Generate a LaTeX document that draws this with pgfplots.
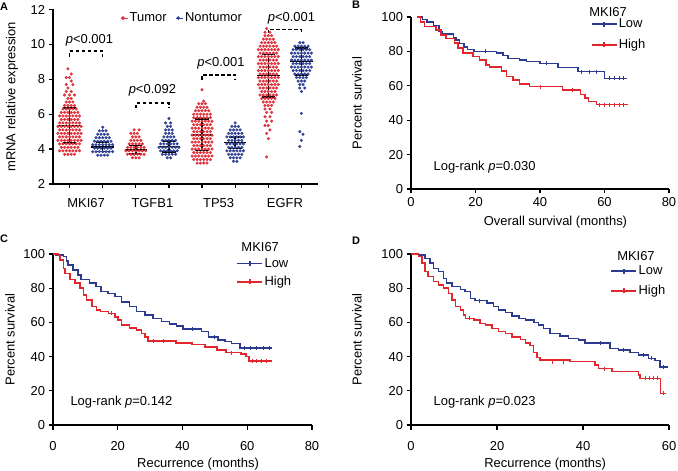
\documentclass[border=0pt]{standalone}
\usepackage{fontspec}
\setmainfont{Liberation Sans}
\usepackage{pgfplots}
\pgfplotsset{compat=1.18}

\definecolor{kmred}{RGB}{226,38,45}
\definecolor{kmblue}{RGB}{44,58,143}
\definecolor{dotred}{RGB}{224,52,62}
\definecolor{dotblue}{RGB}{52,68,150}

\newcommand{\lbl}{\fontsize{13}{15}\selectfont}

\pgfplotsset{
  panel/.style={
    scale only axis,
    axis lines*=left,
    axis line style={black, line width=1.3bp},
    every tick/.style={black, line width=1.2bp},
    tick align=outside,
    major tick length=4.5bp,
    tick label style={font=\lbl},
    label style={font=\lbl},
    /pgf/number format/assume math mode=true,
  },
  km/.style={
    panel,
    clip mode=individual,
    width=258bp, height=172bp,
    ymin=0, ymax=100, ytick={0,20,...,100},
    xmin=0,
    ylabel={Percent survival},
    legend cell align=left,
    legend style={draw=none, fill=none, font=\lbl, inner sep=0pt,
      nodes={inner sep=1.5bp}, anchor=north west},
    legend image code/.code={
      \draw[#1] plot coordinates {(0bp,0bp) (25bp,0bp)};
      \draw[#1] plot coordinates {(12.5bp,-2.5bp) (12.5bp,2.5bp)};},
  },
  low/.style={kmblue, line width=1.5bp, const plot},
  high/.style={kmred, line width=1.5bp, const plot},
  cens/.style={only marks, mark=|, mark size=2bp, line width=1bp, forget plot},
}

\begin{document}
\begin{tikzpicture}
\path[use as bounding box] (0bp,0bp) rectangle (678bp,471bp);

% ---------------- A: expression scatter
\begin{axis}[panel, at={(53bp,287bp)}, anchor=south west,
  width=265bp, height=174.5bp, clip=false,
  xmin=0.5, xmax=8.5, ymin=2, ymax=12, ytick={2,4,...,12},
  xtick={1,...,8}, xticklabels={,,,,,,,},
  extra x ticks={1.5,3.5,5.5,7.5},
  extra x tick labels={MKI67,TGFB1,TP53,EGFR},
  extra x tick style={major tick length=0bp, tick style={draw=none},
    xticklabel style={yshift=-11bp}},
  ylabel={mRNA relative expression},
  ylabel style={at={(axis description cs:-0.155,0.5)}, anchor=center},
  unbounded coords=jump,
  legend columns=2,
  legend style={draw=none, fill=none, font=\lbl, inner sep=0pt,
    nodes={inner sep=1.5bp}, at={(0.255,0.951)}, anchor=west,
    /tikz/every even column/.append style={column sep=8bp}},
  legend image code/.code={\draw[#1, mark size=1.7bp] plot coordinates {(0bp,0bp)}; \path (-2bp,0bp) -- (5bp,0bp);},
]
\addplot[only marks, mark=*, mark size=1.35bp, color=dotred,
  mark options={draw=none, fill=dotred}] coordinates {
(0.85,3.7) (0.95,3.7) (1.05,3.7) (1.15,3.7)
(0.7,3.9) (0.8,3.9) (0.9,3.9) (1,3.9) (1.1,3.9) (1.2,3.9) (1.3,3.9)
(0.75,4.1) (0.85,4.1) (0.95,4.1) (1.05,4.1) (1.15,4.1) (1.25,4.1)
(0.7,4.3) (0.8,4.3) (0.9,4.3) (1,4.3) (1.1,4.3) (1.2,4.3) (1.3,4.3)
(0.65,4.5) (0.75,4.5) (0.85,4.5) (0.95,4.5) (1.05,4.5) (1.15,4.5) (1.25,4.5) (1.35,4.5)
(0.7,4.7) (0.8,4.7) (0.9,4.7) (1,4.7) (1.1,4.7) (1.2,4.7) (1.3,4.7)
(0.65,4.9) (0.75,4.9) (0.85,4.9) (0.95,4.9) (1.05,4.9) (1.15,4.9) (1.25,4.9) (1.35,4.9)
(0.7,5.1) (0.8,5.1) (0.9,5.1) (1,5.1) (1.1,5.1) (1.2,5.1) (1.3,5.1)
(0.65,5.3) (0.75,5.3) (0.85,5.3) (0.95,5.3) (1.05,5.3) (1.15,5.3) (1.25,5.3) (1.35,5.3)
(0.7,5.5) (0.8,5.5) (0.9,5.5) (1,5.5) (1.1,5.5) (1.2,5.5) (1.3,5.5)
(0.75,5.7) (0.85,5.7) (0.95,5.7) (1.05,5.7) (1.15,5.7) (1.25,5.7)
(0.7,5.9) (0.8,5.9) (0.9,5.9) (1,5.9) (1.1,5.9) (1.2,5.9) (1.3,5.9)
(0.75,6.1) (0.85,6.1) (0.95,6.1) (1.05,6.1) (1.15,6.1) (1.25,6.1)
(0.8,6.3) (0.9,6.3) (1,6.3) (1.1,6.3) (1.2,6.3)
(0.85,6.5) (0.95,6.5) (1.05,6.5) (1.15,6.5)
(0.9,6.7) (1,6.7) (1.1,6.7)
(0.95,6.9) (1.05,6.9)
(0.85,7.1) (1,7.1) (1.15,7.1)
(0.9,7.3) (1.05,7.3)
(0.95,7.5)
(0.9,7.7) (1.1,7.7)
(1.05,7.9)
(0.9,8.1) (1,8.1)
(1.05,8.3)
(0.95,8.6)
(2.9,3.5) (3,3.5) (3.1,3.5)
(2.75,3.7) (2.85,3.7) (2.95,3.7) (3.05,3.7) (3.15,3.7) (3.25,3.7)
(2.7,3.9) (2.8,3.9) (2.9,3.9) (3,3.9) (3.1,3.9) (3.2,3.9) (3.3,3.9)
(2.75,4.1) (2.85,4.1) (2.95,4.1) (3.05,4.1) (3.15,4.1) (3.25,4.1)
(2.8,4.3) (2.9,4.3) (3,4.3) (3.1,4.3) (3.2,4.3)
(2.85,4.5) (2.95,4.5) (3.05,4.5) (3.15,4.5)
(2.9,4.7) (3,4.7) (3.1,4.7)
(2.85,4.9) (2.95,4.9) (3.05,4.9)
(2.95,5.1) (3.1,5.1)
(4.85,3.2) (4.95,3.2) (5.05,3.2) (5.15,3.2)
(4.75,3.4) (4.85,3.4) (4.95,3.4) (5.05,3.4) (5.15,3.4) (5.25,3.4)
(4.7,3.6) (4.8,3.6) (4.9,3.6) (5,3.6) (5.1,3.6) (5.2,3.6) (5.3,3.6)
(4.75,3.8) (4.85,3.8) (4.95,3.8) (5.05,3.8) (5.15,3.8) (5.25,3.8)
(4.7,4.0) (4.8,4.0) (4.9,4.0) (5,4.0) (5.1,4.0) (5.2,4.0) (5.3,4.0)
(4.75,4.2) (4.85,4.2) (4.95,4.2) (5.05,4.2) (5.15,4.2) (5.25,4.2)
(4.7,4.4) (4.8,4.4) (4.9,4.4) (5,4.4) (5.1,4.4) (5.2,4.4) (5.3,4.4)
(4.75,4.6) (4.85,4.6) (4.95,4.6) (5.05,4.6) (5.15,4.6) (5.25,4.6)
(4.7,4.8) (4.8,4.8) (4.9,4.8) (5,4.8) (5.1,4.8) (5.2,4.8) (5.3,4.8)
(4.75,5.0) (4.85,5.0) (4.95,5.0) (5.05,5.0) (5.15,5.0) (5.25,5.0)
(4.7,5.2) (4.8,5.2) (4.9,5.2) (5,5.2) (5.1,5.2) (5.2,5.2) (5.3,5.2)
(4.75,5.4) (4.85,5.4) (4.95,5.4) (5.05,5.4) (5.15,5.4) (5.25,5.4)
(4.7,5.6) (4.8,5.6) (4.9,5.6) (5,5.6) (5.1,5.6) (5.2,5.6) (5.3,5.6)
(4.75,5.8) (4.85,5.8) (4.95,5.8) (5.05,5.8) (5.15,5.8) (5.25,5.8)
(4.75,6.0) (4.85,6.0) (4.95,6.0) (5.05,6.0) (5.15,6.0) (5.25,6.0)
(4.8,6.2) (4.9,6.2) (5,6.2) (5.1,6.2) (5.2,6.2)
(4.85,6.4) (4.95,6.4) (5.05,6.4) (5.15,6.4)
(4.9,6.6) (5,6.6) (5.1,6.6)
(5.05,6.75)
(5,7.4)
(6.95,10.9)
(6.9,10.7) (7.05,10.7)
(6.9,10.5) (7,10.5) (7.1,10.5)
(6.85,10.3) (6.95,10.3) (7.05,10.3) (7.15,10.3)
(6.8,10.1) (6.9,10.1) (7,10.1) (7.1,10.1) (7.2,10.1)
(6.75,9.9) (6.85,9.9) (6.95,9.9) (7.05,9.9) (7.15,9.9) (7.25,9.9)
(6.7,9.7) (6.8,9.7) (6.9,9.7) (7,9.7) (7.1,9.7) (7.2,9.7) (7.3,9.7)
(6.75,9.5) (6.85,9.5) (6.95,9.5) (7.05,9.5) (7.15,9.5) (7.25,9.5)
(6.7,9.3) (6.8,9.3) (6.9,9.3) (7,9.3) (7.1,9.3) (7.2,9.3) (7.3,9.3)
(6.75,9.1) (6.85,9.1) (6.95,9.1) (7.05,9.1) (7.15,9.1) (7.25,9.1)
(6.7,8.9) (6.8,8.9) (6.9,8.9) (7,8.9) (7.1,8.9) (7.2,8.9) (7.3,8.9)
(6.75,8.7) (6.85,8.7) (6.95,8.7) (7.05,8.7) (7.15,8.7) (7.25,8.7)
(6.7,8.5) (6.8,8.5) (6.9,8.5) (7,8.5) (7.1,8.5) (7.2,8.5) (7.3,8.5)
(6.75,8.3) (6.85,8.3) (6.95,8.3) (7.05,8.3) (7.15,8.3) (7.25,8.3)
(6.7,8.1) (6.8,8.1) (6.9,8.1) (7,8.1) (7.1,8.1) (7.2,8.1) (7.3,8.1)
(6.75,7.9) (6.85,7.9) (6.95,7.9) (7.05,7.9) (7.15,7.9) (7.25,7.9)
(6.7,7.7) (6.8,7.7) (6.9,7.7) (7,7.7) (7.1,7.7) (7.2,7.7) (7.3,7.7)
(6.75,7.5) (6.85,7.5) (6.95,7.5) (7.05,7.5) (7.15,7.5) (7.25,7.5)
(6.8,7.3) (6.9,7.3) (7,7.3) (7.1,7.3) (7.2,7.3)
(6.75,7.1) (6.85,7.1) (6.95,7.1) (7.05,7.1) (7.15,7.1) (7.25,7.1)
(6.8,6.9) (6.9,6.9) (7,6.9) (7.1,6.9) (7.2,6.9)
(6.85,6.7) (6.95,6.7) (7.05,6.7) (7.15,6.7)
(6.9,6.5) (7,6.5) (7.1,6.5)
(6.9,6.3) (7.05,6.3)
(6.95,6.1) (7.1,6.1)
(6.9,5.85) (7.05,5.85)
(6.95,5.6) (7.1,5.6)
(6.9,5.35) (7,5.35)
(7.05,5.1)
(6.95,4.9)
(7,4.6)
(6.95,3.55)
};
\addplot[only marks, mark=*, mark size=1.35bp, color=dotblue,
  mark options={draw=none, fill=dotblue}] coordinates {
(1.85,3.65) (1.95,3.65) (2.05,3.65) (2.15,3.65)
(1.7,3.85) (1.8,3.85) (1.9,3.85) (2,3.85) (2.1,3.85) (2.2,3.85) (2.3,3.85)
(1.75,4.05) (1.85,4.05) (1.95,4.05) (2.05,4.05) (2.15,4.05) (2.25,4.05)
(1.7,4.25) (1.8,4.25) (1.9,4.25) (2,4.25) (2.1,4.25) (2.2,4.25) (2.3,4.25)
(1.75,4.45) (1.85,4.45) (1.95,4.45) (2.05,4.45) (2.15,4.45) (2.25,4.45)
(1.8,4.65) (1.9,4.65) (2,4.65) (2.1,4.65) (2.2,4.65)
(1.85,4.85) (1.95,4.85) (2.05,4.85) (2.15,4.85)
(1.9,5.05) (2,5.05) (2.1,5.05)
(2,5.25)
(3.95,3.5) (4.05,3.5)
(3.8,3.7) (3.9,3.7) (4,3.7) (4.1,3.7) (4.2,3.7)
(3.75,3.9) (3.85,3.9) (3.95,3.9) (4.05,3.9) (4.15,3.9) (4.25,3.9)
(3.7,4.1) (3.8,4.1) (3.9,4.1) (4,4.1) (4.1,4.1) (4.2,4.1) (4.3,4.1)
(3.75,4.3) (3.85,4.3) (3.95,4.3) (4.05,4.3) (4.15,4.3) (4.25,4.3)
(3.8,4.5) (3.9,4.5) (4,4.5) (4.1,4.5) (4.2,4.5)
(3.85,4.7) (3.95,4.7) (4.05,4.7) (4.15,4.7)
(3.9,4.9) (4,4.9) (4.1,4.9)
(3.9,5.1) (4,5.1) (4.1,5.1)
(3.95,5.3) (4.05,5.3)
(3.9,5.5) (4.05,5.5)
(4,5.75)
(5.95,3.3) (6.05,3.3)
(5.85,3.5) (5.95,3.5) (6.05,3.5) (6.15,3.5)
(5.8,3.7) (5.9,3.7) (6,3.7) (6.1,3.7) (6.2,3.7)
(5.75,3.9) (5.85,3.9) (5.95,3.9) (6.05,3.9) (6.15,3.9) (6.25,3.9)
(5.8,4.1) (5.9,4.1) (6,4.1) (6.1,4.1) (6.2,4.1)
(5.75,4.3) (5.85,4.3) (5.95,4.3) (6.05,4.3) (6.15,4.3) (6.25,4.3)
(5.8,4.5) (5.9,4.5) (6,4.5) (6.1,4.5) (6.2,4.5)
(5.75,4.7) (5.85,4.7) (5.95,4.7) (6.05,4.7) (6.15,4.7) (6.25,4.7)
(5.8,4.9) (5.9,4.9) (6,4.9) (6.1,4.9) (6.2,4.9)
(5.85,5.1) (5.95,5.1) (6.05,5.1) (6.15,5.1)
(5.9,5.3) (6,5.3) (6.1,5.3)
(6,5.5)
(7.95,10.1) (8.05,10.1)
(7.8,9.9) (7.9,9.9) (8,9.9) (8.1,9.9) (8.2,9.9)
(7.75,9.7) (7.85,9.7) (7.95,9.7) (8.05,9.7) (8.15,9.7) (8.25,9.7)
(7.7,9.5) (7.8,9.5) (7.9,9.5) (8,9.5) (8.1,9.5) (8.2,9.5) (8.3,9.5)
(7.75,9.3) (7.85,9.3) (7.95,9.3) (8.05,9.3) (8.15,9.3) (8.25,9.3)
(7.7,9.1) (7.8,9.1) (7.9,9.1) (8,9.1) (8.1,9.1) (8.2,9.1) (8.3,9.1)
(7.75,8.9) (7.85,8.9) (7.95,8.9) (8.05,8.9) (8.15,8.9) (8.25,8.9)
(7.7,8.7) (7.8,8.7) (7.9,8.7) (8,8.7) (8.1,8.7) (8.2,8.7) (8.3,8.7)
(7.75,8.5) (7.85,8.5) (7.95,8.5) (8.05,8.5) (8.15,8.5) (8.25,8.5)
(7.8,8.3) (7.9,8.3) (8,8.3) (8.1,8.3) (8.2,8.3)
(7.85,8.1) (7.95,8.1) (8.05,8.1) (8.15,8.1)
(7.9,7.9) (8,7.9) (8.1,7.9)
(7.95,7.7) (8.05,7.7)
(7.95,7.5) (8.1,7.5)
(8,7.3)
(8,6.05)
(7.95,5.0)
(8.05,4.85)
(8,4.5)
(7.95,4.15)
};
\legend{Tumor,Nontumor}
% mean and SD
\addplot[black, line width=1.6bp, forget plot] coordinates {
(0.8,4.35) (1.2,4.35) (1,nan) (1,4.35) (1,6.35) (1,nan) (0.8,6.35) (1.2,6.35) (1,nan) (0.66,5.35) (1.34,5.35) (1,nan)
(1.8,3.86) (2.2,3.86) (2,nan) (2,3.86) (2,4.41) (2,nan) (1.8,4.41) (2.2,4.41) (2,nan) (1.66,4.13) (2.34,4.13) (2,nan)
(2.8,3.72) (3.2,3.72) (3,nan) (3,3.72) (3,4.2) (3,nan) (2.8,4.2) (3.2,4.2) (3,nan) (2.66,3.96) (3.34,3.96) (3,nan)
(3.8,3.85) (4.2,3.85) (4,nan) (4,3.85) (4,4.45) (4,nan) (3.8,4.45) (4.2,4.45) (4,nan) (3.66,4.15) (4.34,4.15) (4,nan)
(4.8,3.92) (5.2,3.92) (5,nan) (5,3.92) (5,5.71) (5,nan) (4.8,5.71) (5.2,5.71) (5,nan) (4.66,4.82) (5.34,4.82) (5,nan)
(5.8,4.04) (6.2,4.04) (6,nan) (6,4.04) (6,4.71) (6,nan) (5.8,4.71) (6.2,4.71) (6,nan) (5.66,4.38) (6.34,4.38) (6,nan)
(6.8,6.98) (7.2,6.98) (7,nan) (7,6.98) (7,9.43) (7,nan) (6.8,9.43) (7.2,9.43) (7,nan) (6.66,8.22) (7.34,8.22) (7,nan)
(7.8,8.26) (8.2,8.26) (8,nan) (8,8.26) (8,9.78) (8,nan) (7.8,9.78) (8.2,9.78) (8,nan) (7.66,9.02) (8.34,9.02)
};
% significance brackets
\addplot[black, line width=1.5bp, dash pattern=on 3.5bp off 2.5bp, forget plot] coordinates {
(1,9.3) (1,9.62) (2,9.62) (2,9.3) (1,nan)
(3,6.34) (3,6.63) (4,6.63) (4,6.34) (3,nan)
(5,7.96) (5,8.25) (6,8.25) (6,7.96) (5,nan)
(7,10.63) (7,10.86) (8,10.86) (8,10.63)
};
\node[font=\lbl] at (axis cs:1.6,10.25) {\textit{p}<0.001};
\node[font=\lbl] at (axis cs:3.5,7.35) {\textit{p}<0.092};
\node[font=\lbl] at (axis cs:5.57,8.91) {\textit{p}<0.001};
\node[font=\lbl] at (axis cs:7.7,11.5) {\textit{p}<0.001};
\end{axis}

% ---------------- B: overall survival
\begin{axis}[km, at={(411bp,282bp)}, anchor=south west,
  xmax=80, xtick={0,20,...,80},
  xlabel={Overall survival (months)},
  xlabel style={at={(axis description cs:0.56,-0.192)}, anchor=center},
  ylabel style={at={(axis description cs:-0.209,0.5)}, anchor=center},
  legend style={at={(0.696,0.998)}, row sep=7bp}]
\addplot[low] coordinates {
(2,100) (3.5,98.5) (5,97) (6.9,95) (8.7,91.5) (9.7,90) (13.2,88) (13.9,86.5)
(15,84.5) (16.5,82.5) (17.5,81) (19.6,80) (26.5,79) (28.5,77.5) (30,76)
(33.7,75) (35.8,74) (40,73) (45.6,70.5) (51.8,68.3) (60,64.3) (67,64.3)
};
\addplot[high] coordinates {
(2,100) (3,97) (4.2,94.5) (7.8,92.5) (9.3,89.5) (10.9,87.5) (13.5,85) (14.6,82)
(16.1,79) (19.2,77) (21.3,75) (23.3,72) (24.4,71) (28,68.5) (29.6,65.5)
(31.6,63.5) (33.7,61) (36.8,59.5) (47,57.5) (52.5,55) (54,53) (55,51)
(57.5,49) (67.3,49)
};
\legend{Low,High}
\addplot[cens, kmblue] coordinates {
(23,80) (42,73) (53,68.3) (55.5,68.3) (57.5,68.3) (61.5,64.3) (63,64.3) (64.5,64.3) (66,64.3)
};
\addplot[cens, kmred] coordinates {
(40,59.5) (50,57.5) (58.5,49) (60,49) (61.5,49) (63,49) (64.5,49) (66,49)
};
\node[font=\lbl] at (rel axis cs:0.764,1.029) {MKI67};
\node[font=\lbl, anchor=west] at (rel axis cs:0.074,0.128) {Log-rank \textit{p}=0.030};
\end{axis}

% ---------------- C: recurrence
\begin{axis}[km, at={(53bp,46bp)}, anchor=south west, width=259bp, height=171bp,
  xmax=80, xtick={0,20,...,80},
  xticklabel style={yshift=-8bp},
  xlabel={Recurrence (months)},
  xlabel style={at={(axis description cs:0.56,-0.228)}, anchor=center},
  ylabel style={at={(axis description cs:-0.166,0.5)}, anchor=center},
  legend style={at={(0.708,0.986)}, row sep=5bp}]
\addplot[low] coordinates {
(0,100) (1,99.5) (3.2,98.5) (4.2,96) (4.7,93.5) (6.2,90.5) (7.7,87.7) (8.7,85)
(11.3,83) (13.3,81) (14.9,78) (17,77) (19.1,75) (21.1,72) (23.7,69.2)
(25.8,66.3) (28.4,64.3) (30.9,62.4) (33.5,60.4) (36,59) (38.1,58) (40.1,56)
(45.9,54.6) (48,51.6) (51,49.7) (53.1,48.7) (55.2,47.8) (57.7,45) (67.5,45)
};
\addplot[high] coordinates {
(0,100) (1.5,99) (2.2,96.5) (3.2,91.6) (3.7,88.7) (5.3,85) (6.8,83) (8.3,80)
(9.4,76) (10.4,73) (12,69.2) (13.5,67.3) (14.6,66.3) (17.1,65.3) (19.1,63.3)
(20.1,61.4) (21.2,58.5) (23.7,56.6) (25.8,55.6) (27.3,53.6) (28.4,51.6)
(29.4,49) (38,48) (43,47) (47,45.5) (50.6,44) (53.5,42.3) (58,41.5)
(59.6,40) (60.6,37.5) (67.5,37.5)
};
\legend{Low,High}
\addplot[cens, kmblue] coordinates {
(43,56) (50,51.6) (59,45) (61,45) (63,45) (65,45) (67,45)
};
\addplot[cens, kmred] coordinates {
(18,65.3) (31,49) (34,49) (55,42.3) (61.5,37.5) (63,37.5) (64.5,37.5) (66,37.5)
};
\node[font=\lbl] at (rel axis cs:0.80,1.04) {MKI67};
\node[font=\lbl, anchor=west] at (rel axis cs:0.054,0.134) {Log-rank \textit{p}=0.142};
\end{axis}

% ---------------- D: recurrence, second cohort
\begin{axis}[km, at={(411bp,46bp)}, anchor=south west, width=258bp, height=171bp,
  xmax=60, xtick={0,20,40,60},
  xticklabel style={yshift=-8bp},
  xlabel={Recurrence (months)},
  xlabel style={at={(axis description cs:0.52,-0.228)}, anchor=center},
  ylabel style={at={(axis description cs:-0.209,0.5)}, anchor=center},
  legend style={at={(0.773,0.94)}, row sep=6bp}]
\addplot[low] coordinates {
(0,100) (1.7,99.4) (3.2,97.5) (4.4,94.6) (5.2,91.6) (6.4,89.7) (7.5,85.8)
(8.3,82.9) (9.5,81) (11.5,79.3) (12.6,78) (13.8,74.1) (14.9,72.7) (17.7,71.2)
(19.2,69.2) (20.4,67.3) (22,65.7) (23.5,63.7) (25.1,62.4) (26.6,61.4)
(28.6,59.8) (29.6,58.5) (30.8,56.5) (32.3,53.6) (34.6,52) (36.6,50.7)
(38.9,49.7) (40.5,48) (46.3,44.8) (48.2,43.9) (50.9,42.3) (52.9,40.9)
(55.2,39) (56.7,37.6) (57.9,34) (59.8,34)
};
\addplot[high] coordinates {
(0,100) (1.7,98.5) (2.5,94.6) (3.2,89.7) (4,86.7) (5.2,83.8) (6.4,82) (7.5,80)
(8.7,77) (9.5,73) (10.3,69.2) (11.5,67.3) (12.2,64.3) (12.7,62.4) (14.6,61.4)
(16.1,59.5) (17.3,58.5) (18.8,56.5) (20.4,54.6) (22,53.5) (23.5,51.6)
(25.5,50) (26.6,48) (27.7,46.5) (28.5,42.5) (29.3,39.5) (30,38) (37,37)
(42.8,35) (43.6,33) (46.7,31.2) (52.9,29.2) (53.3,27.3) (58,18.5) (59.4,18.5)
};
\legend{Low,High}
\addplot[cens, kmblue] coordinates {
(16,72.7) (44,48) (49.5,43.9) (54,40.9) (56,39) (58.8,34)
};
\addplot[cens, kmred] coordinates {
(13.5,62.4) (33,37) (35.5,37) (45,33) (54.5,27.3) (55.5,27.3) (56.5,27.3) (57.4,27.3) (58.8,18.5)
};
\node[font=\lbl] at (rel axis cs:0.872,0.99) {MKI67};
\node[font=\lbl, anchor=west] at (rel axis cs:0.074,0.134) {Log-rank \textit{p}=0.023};
\end{axis}

% panel letters
\node[font=\bfseries\fontsize{11}{13}\selectfont] at (4bp,464bp) {A};
\node[font=\bfseries\fontsize{11}{13}\selectfont] at (356bp,466bp) {B};
\node[font=\bfseries\fontsize{11}{13}\selectfont] at (4bp,232bp) {C};
\node[font=\bfseries\fontsize{11}{13}\selectfont] at (356bp,230bp) {D};
\end{tikzpicture}
\end{document}
